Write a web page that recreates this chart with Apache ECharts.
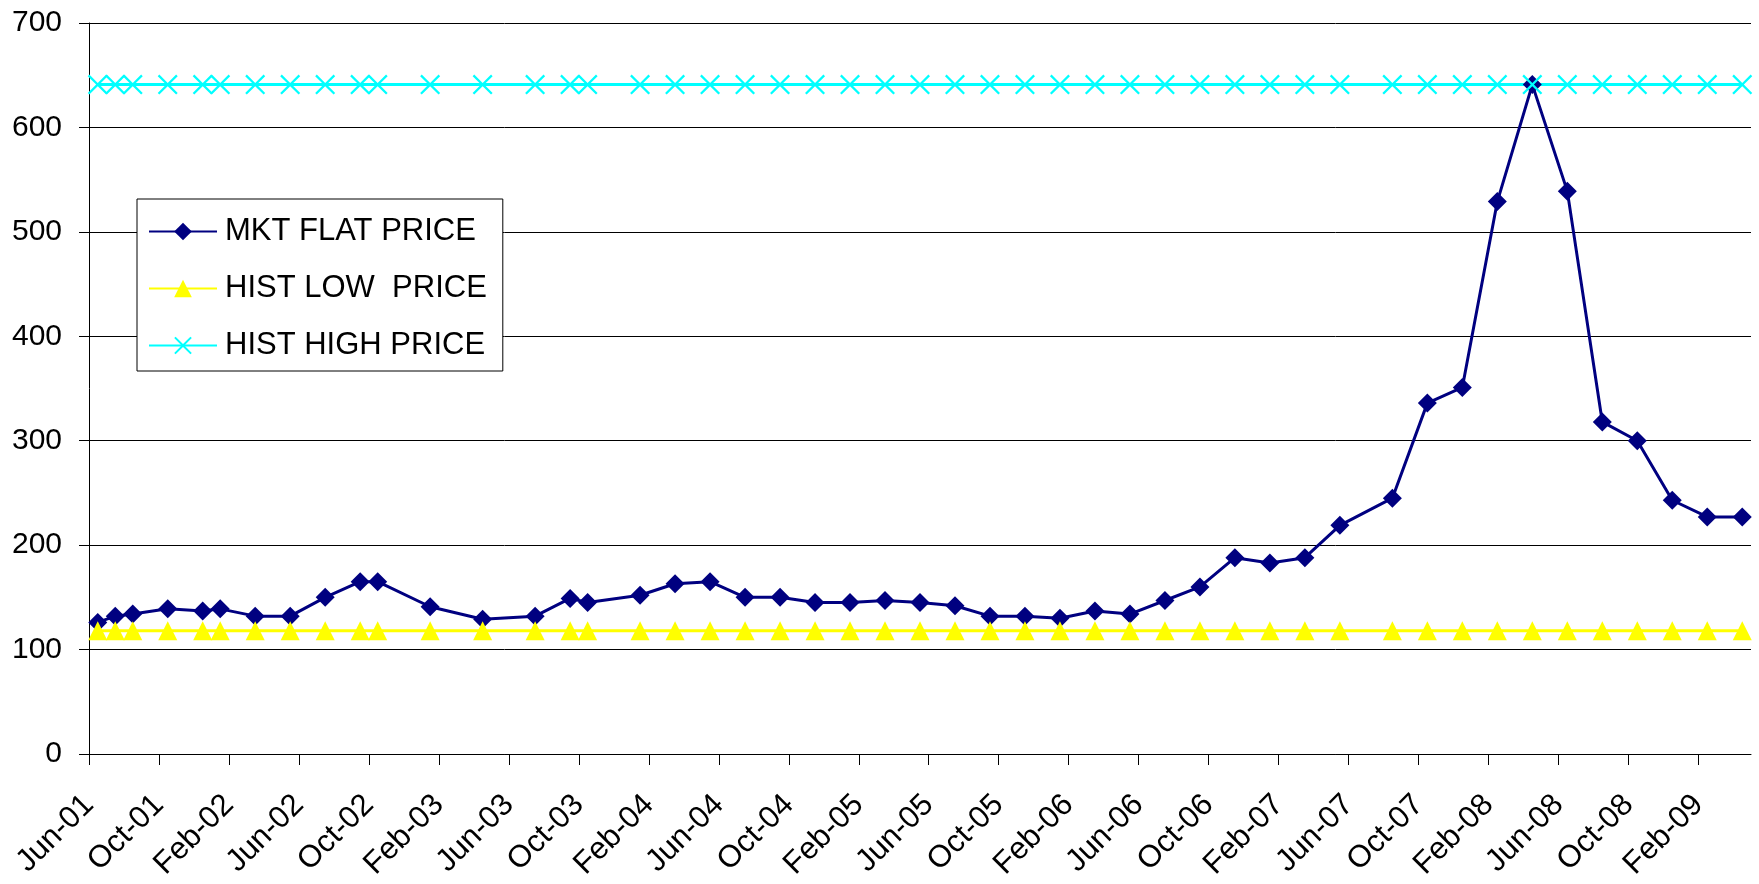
<!DOCTYPE html>
<html>
<head>
<meta charset="utf-8">
<script src="https://cdn.jsdelivr.net/npm/echarts@6/dist/echarts.min.js"></script>
<style>
html, body { margin: 0; padding: 0; background: #fff; }
#chart { width: 1759px; height: 884px; }
</style>
</head>
<body>
<div id="chart"></div>
<script>
// observation months (Excel month base unit: each point sits mid-month)
const months = [
	"2001-06", "2001-07", "2001-08", "2001-10", "2001-12", "2002-01", "2002-03", "2002-05",
	"2002-07", "2002-09", "2002-10", "2003-01", "2003-04", "2003-07", "2003-09", "2003-10",
	"2004-01", "2004-03", "2004-05", "2004-07", "2004-09", "2004-11", "2005-01", "2005-03",
	"2005-05", "2005-07", "2005-09", "2005-11", "2006-01", "2006-03", "2006-05", "2006-07",
	"2006-09", "2006-11", "2007-01", "2007-03", "2007-05", "2007-08", "2007-10", "2007-12",
	"2008-02", "2008-04", "2008-06", "2008-08", "2008-10", "2008-12", "2009-02", "2009-04",
];
const mktFlatPrice = [
	126, 132, 134, 139, 137, 139, 132, 132,
	150, 165, 165, 141, 129, 132, 149, 145,
	152, 163, 165, 150, 150, 145, 145, 147,
	145, 142, 132, 132, 130, 137, 134, 147,
	160, 188, 183, 188, 219, 245, 336, 351,
	529, 641, 539, 318, 300, 243, 227, 227,
];
const histLowPrice = [
	118, 118, 118, 118, 118, 118, 118, 118,
	118, 118, 118, 118, 118, 118, 118, 118,
	118, 118, 118, 118, 118, 118, 118, 118,
	118, 118, 118, 118, 118, 118, 118, 118,
	118, 118, 118, 118, 118, 118, 118, 118,
	118, 118, 118, 118, 118, 118, 118, 118,
];
const histHighPrice = [
	641, 641, 641, 641, 641, 641, 641, 641,
	641, 641, 641, 641, 641, 641, 641, 641,
	641, 641, 641, 641, 641, 641, 641, 641,
	641, 641, 641, 641, 641, 641, 641, 641,
	641, 641, 641, 641, 641, 641, 641, 641,
	641, 641, 641, 641, 641, 641, 641, 641,
];
const tickLabels = [
	"Jun-01", "Oct-01", "Feb-02", "Jun-02", "Oct-02", "Feb-03", "Jun-03", "Oct-03",
	"Feb-04", "Jun-04", "Oct-04", "Feb-05", "Jun-05", "Oct-05", "Feb-06", "Jun-06",
	"Oct-06", "Feb-07", "Jun-07", "Oct-07", "Feb-08", "Jun-08", "Oct-08", "Feb-09",
];

// months counted from Jun-01, point placed in the middle of its month slot
const monthPos = (s) => {
	const [y, m] = s.split("-").map(Number);
	return (y - 2001) * 12 + (m - 6) + 0.5;
};
const xs = months.map(monthPos);
const tickValues = tickLabels.map((_, i) => i * 4);
const pairs = (vals) => vals.map((v, i) => [xs[i], v]);

const FONT = "'Liberation Sans', Arial, sans-serif";
// X marker as a filled polygon
const X_SYMBOL = "path://M0,8L8,0L50,42L92,0L100,8L58,50L100,92L92,100L50,58L8,100L0,92L42,50Z";

const chart = echarts.init(document.getElementById("chart"), null, { renderer: "canvas" });
chart.setOption({
	animation: false,
	backgroundColor: "#fff",
	textStyle: { fontFamily: FONT, color: "#000" },
	grid: { left: 89, right: 8, top: 23, bottom: 130 },
	legend: {
		orient: "vertical",
		left: 137,
		top: 199,
		data: ["MKT FLAT PRICE", "HIST LOW  PRICE", "HIST HIGH PRICE"],
		itemWidth: 68,
		itemHeight: 22,
		itemGap: 20,
		padding: [14, 16, 7, 11],
		backgroundColor: "#fff",
		borderColor: "#000",
		borderWidth: 1,
		borderRadius: 0,
		textStyle: { fontFamily: FONT, fontSize: 31, lineHeight: 37, color: "#000", padding: [0, 0, 0, 3] },
	},
	xAxis: {
		type: "value",
		min: 0,
		max: 95,
		interval: 4,
		splitLine: { show: false },
		axisLine: { lineStyle: { color: "#000", width: 1 } },
		axisTick: { show: true, customValues: tickValues, length: 11, lineStyle: { color: "#000" } },
		axisLabel: {
			customValues: tickValues,
			rotate: 45,
			margin: 46,
			fontSize: 31,
			fontFamily: FONT,
			color: "#000",
			formatter: (v) => tickLabels[Math.round(v / 4)] || "",
		},
	},
	yAxis: {
		type: "value",
		min: 0,
		max: 700,
		interval: 100,
		axisLine: { show: true, lineStyle: { color: "#000", width: 1 } },
		axisTick: { show: true, length: 10, lineStyle: { color: "#000" } },
		splitLine: { show: true, lineStyle: { color: "#000", width: 1 } },
		axisLabel: { margin: 27, fontSize: 30, fontFamily: FONT, color: "#000", padding: [0, 0, 6, 0] },
	},
	series: [
		{
			name: "MKT FLAT PRICE",
			type: "line",
			data: pairs(mktFlatPrice),
			symbol: "diamond",
			symbolSize: 19,
			color: "#000080",
			lineStyle: { color: "#000080", width: 3 },
			itemStyle: { color: "#000080" },
		},
		{
			name: "HIST LOW  PRICE",
			type: "line",
			data: pairs(histLowPrice),
			symbol: "triangle",
			symbolSize: 19,
			color: "#ffff00",
			lineStyle: { color: "#ffff00", width: 3 },
			itemStyle: { color: "#ffff00" },
		},
		{
			name: "HIST HIGH PRICE",
			type: "line",
			data: pairs(histHighPrice),
			symbol: X_SYMBOL,
			symbolSize: 20,
			color: "#00ffff",
			lineStyle: { color: "#00ffff", width: 3 },
			itemStyle: { color: "#00ffff" },
		},
	],
});
</script>
</body>
</html>
